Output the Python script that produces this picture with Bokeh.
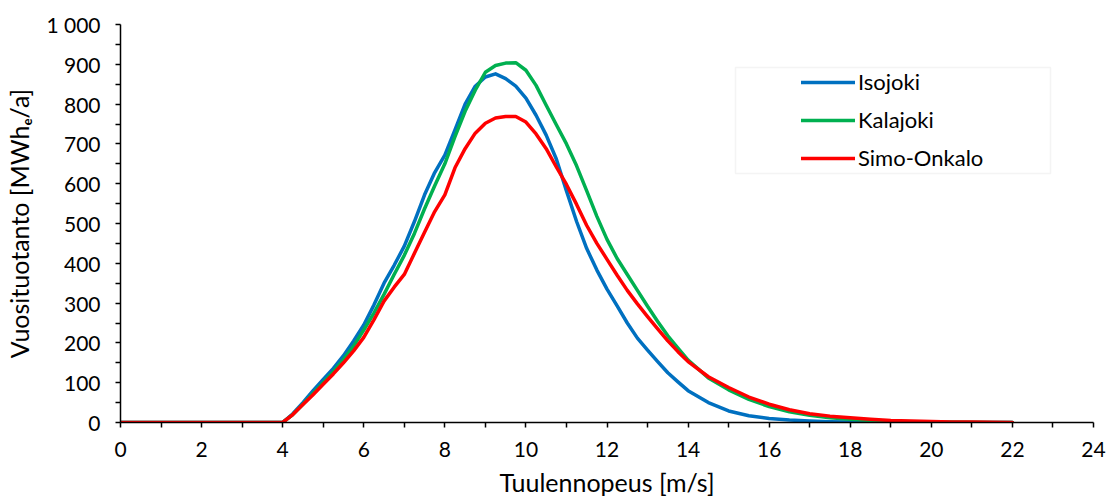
from bokeh.plotting import figure
from bokeh.models import Range1d, FixedTicker, Legend, LegendItem, BoxAnnotation
from bokeh.embed import file_html
from bokeh.resources import INLINE

# wind speed [m/s]
speed = [0, 0.5, 1, 1.5, 2, 2.5, 3, 3.5,
         3.75, 4, 4.25, 4.5, 4.75, 5, 5.25, 5.5, 5.75, 6, 6.25, 6.5, 6.75, 7,
         7.25, 7.5, 7.75, 8, 8.25, 8.5, 8.75, 9, 9.25, 9.5, 9.75, 10,
         10.25, 10.5, 10.75, 11, 11.25, 11.5, 11.75, 12, 12.25, 12.5, 12.75, 13,
         13.25, 13.5, 13.75, 14,
         14.5, 15, 15.5, 16, 16.5, 17, 17.5, 18, 18.5, 19, 19.5, 20, 20.5, 21, 21.5, 22]

isojoki = [0, 0, 0, 0, 0, 0, 0, 0,
           0, 0, 22, 50, 80, 108, 136, 168, 205, 245, 295, 350, 395, 443,
           505, 572, 628, 672, 735, 800, 845, 868, 876, 864, 845, 815,
           772, 722, 662, 582, 505, 437, 383, 335, 293, 250, 212, 182,
           153, 125, 102, 80,
           50, 29, 17, 10, 6, 3.5, 2, 1, 0.5, 0.3, 0.2, 0.1, 0, 0, 0, 0]

kalajoki = [0, 0, 0, 0, 0, 0, 0, 0,
            0, 0, 20, 46, 73, 100, 128, 158, 192, 232, 275, 322, 372, 420,
            475, 537, 595, 650, 718, 782, 835, 880, 897, 903, 904, 885,
            847, 797, 748, 700, 645, 582, 518, 460, 412, 372, 332, 292,
            254, 218, 187, 157,
            112, 82, 58, 40, 27, 18, 12, 8, 5, 3, 2, 1.5, 1, 0.5, 0.2, 0]

simo_onkalo = [0, 0, 0, 0, 0, 0, 0, 0,
               0, 0, 20, 45, 70, 96, 122, 150, 180, 214, 258, 305, 340, 372,
               425, 478, 530, 572, 640, 688, 727, 752, 765, 769, 769, 755,
               725, 688, 642, 598, 548, 495, 450, 410, 370, 332, 298, 266,
               235, 205, 178, 153,
               115, 88, 64, 46, 32, 22, 16, 12, 8, 5, 3.5, 2.5, 1.5, 1, 0.5, 0]

series_names = ["Isojoki", "Kalajoki", "Simo-Onkalo"]
series_colors = ["#0070C0", "#00B050", "#FF0000"]

x_ticks = list(range(0, 25, 2))
x_minor = list(range(1, 24, 2))
y_ticks = list(range(0, 1001, 100))
y_minor = list(range(50, 1000, 100))

FONT = "Lato"

p = figure(width=1115, height=499, output_backend="svg", toolbar_location=None,
           x_range=Range1d(0, 24), y_range=Range1d(0, 1000),
           min_border_left=120, min_border_right=22, min_border_top=24, min_border_bottom=77)
p.outline_line_color = None
p.xgrid.grid_line_color = None
p.ygrid.grid_line_color = None
p.background_fill_color = "white"
p.border_fill_color = "white"

renderers = []
for ys, name, col in zip([isojoki, kalajoki, simo_onkalo], series_names, series_colors):
    r = p.line(speed, ys, line_color=col, line_width=3.5, line_join="round", line_cap="round")
    renderers.append((name, r))

for ax in (p.xaxis[0], p.yaxis[0]):
    ax.axis_line_color = "black"
    ax.axis_line_width = 1.5
    ax.major_tick_line_color = "black"
    ax.minor_tick_line_color = "black"
    ax.major_tick_line_width = 1.5
    ax.minor_tick_line_width = 1.5
    ax.major_tick_in = 0
    ax.major_tick_out = 5
    ax.minor_tick_in = 0
    ax.minor_tick_out = 5
    ax.major_label_text_font = FONT
    ax.major_label_text_font_size = "21px"
    ax.major_label_text_color = "black"
    ax.axis_label_text_font = FONT
    ax.axis_label_text_font_size = "25px"
    ax.axis_label_text_font_style = "normal"
    ax.axis_label_text_color = "black"

p.xaxis.ticker = FixedTicker(ticks=x_ticks, minor_ticks=x_minor)
p.yaxis.ticker = FixedTicker(ticks=y_ticks, minor_ticks=y_minor)
p.yaxis.major_label_overrides = {1000: "1 000"}
p.xaxis.major_label_standoff = 14
p.yaxis.major_label_standoff = 15
p.xaxis.axis_label = "Tuulennopeus [m/s]"
p.yaxis.axis_label = "Vuosituotanto [MWhₑ/a]"
p.xaxis.axis_label_standoff = 7
p.yaxis.axis_label_standoff = 9

# legend frame
p.add_layout(BoxAnnotation(left=15.17, right=22.94, bottom=625.6, top=892,
                           fill_color="white", fill_alpha=1.0,
                           line_color="#d9d9d9", line_width=1.5, level="underlay"))

legend = Legend(items=[LegendItem(label=n, renderers=[r]) for n, r in renderers],
                location=(681, 251), padding=0, margin=0, spacing=11,
                glyph_width=54, glyph_height=26, label_height=26, label_standoff=3,
                background_fill_alpha=0, border_line_color=None,
                label_text_font=FONT, label_text_font_size="22px", label_text_color="black")
p.add_layout(legend)

open("out.html", "w").write(file_html(p, INLINE))
